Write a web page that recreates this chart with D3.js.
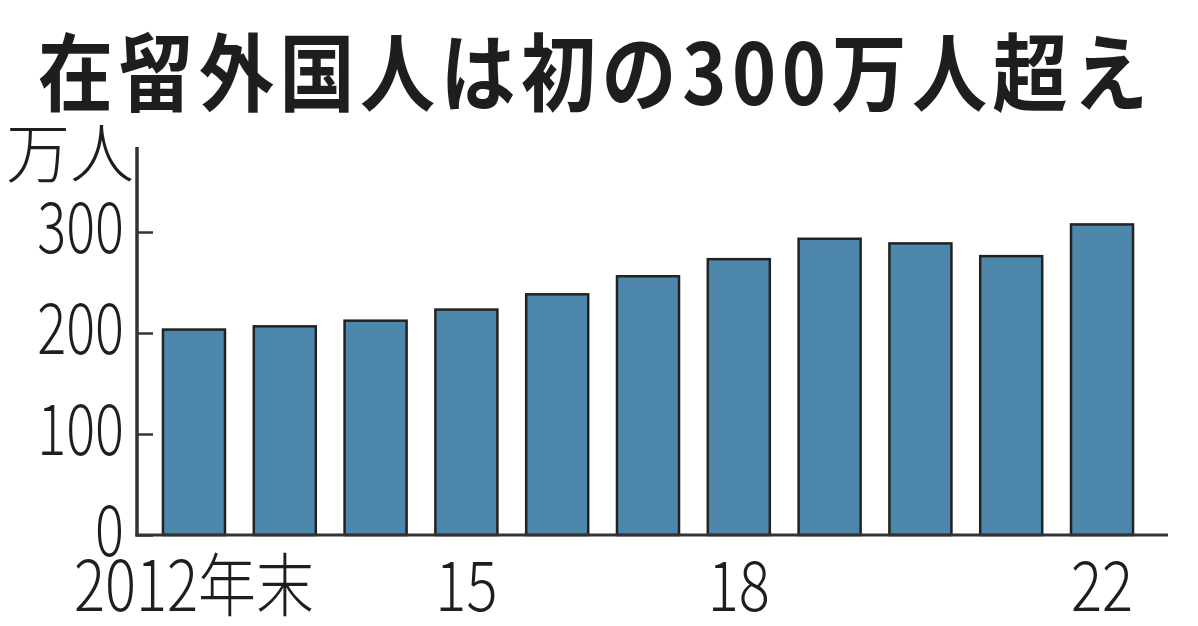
<!DOCTYPE html>
<html>
<head>
<meta charset="utf-8">
<script src="https://cdn.jsdelivr.net/npm/d3@7"></script>
<style>
  html, body { margin: 0; padding: 0; background: #fff; }
  svg { display: block; }
  text { font-family: "Noto Sans CJK JP", "Noto Sans", sans-serif; fill: #1e1e1e; }
</style>
</head>
<body>
<svg id="chart" width="1198" height="626"></svg>
<script>
const title = "在留外国人は初の300万人超え";
const unitLabel = "万人";
const years = ["2012","2013","2014","2015","2016","2017","2018","2019","2020","2021","2022"];
const values = [203.4, 206.6, 212.2, 223.2, 238.3, 256.2, 273.1, 293.3, 288.7, 276.1, 307.5];
const yTicks = [0, 100, 200, 300];
const xTickLabels = {"2012": "2012年末", "2015": "15", "2018": "18", "2022": "22"};

const svg = d3.select("#chart");

const x = d3.scaleBand().domain(years).range([137, 1159]).paddingInner(0.317).paddingOuter(0.286);
const y = d3.scaleLinear().domain([0, 300]).range([535, 232]);

// Title
svg.append("g").attr("transform", "translate(38,105) scale(1,1.13)")
  .append("text")
  .attr("x", 0).attr("y", 0)
  .attr("font-size", 75).attr("font-weight", "bold")
  .attr("textLength", 1110).attr("lengthAdjust", "spacing")
  .text(title);

// Unit label
svg.append("g").attr("transform", "translate(6,177) scale(1,1.02)")
  .append("text").attr("font-size", 64).attr("font-weight", 300).text(unitLabel);

// Bars
svg.append("g").selectAll("rect").data(years).join("rect")
  .attr("x", d => x(d))
  .attr("y", (d, i) => y(values[i]))
  .attr("width", x.bandwidth())
  .attr("height", (d, i) => y(0) - y(values[i]))
  .attr("fill", "#4d87ab")
  .attr("stroke", "#222")
  .attr("stroke-width", 2.5);

// Y axis
const yAxis = d3.axisRight(y).tickValues(yTicks).tickSize(16).tickFormat("");
const gy = svg.append("g").attr("transform", "translate(137,0)").call(yAxis);
gy.select(".domain").remove();
gy.selectAll(".tick line").attr("stroke", "#333").attr("stroke-width", 2.5);
svg.append("line").attr("x1", 137).attr("x2", 137).attr("y1", 147).attr("y2", 536.5)
  .attr("stroke", "#333").attr("stroke-width", 3.5);

// Y tick labels
svg.append("g").selectAll("g").data(yTicks).join("g")
  .attr("transform", d => `translate(124,${y(d) + 21}) scale(1,1.3)`)
  .append("text").attr("text-anchor", "end").attr("font-size", 54).attr("font-weight", 300).text(d => d);

// X axis line
svg.append("line").attr("x1", 135.5).attr("x2", 1168).attr("y1", y(0)).attr("y2", y(0))
  .attr("stroke", "#333").attr("stroke-width", 3);

// X tick labels
svg.append("g").selectAll("g").data(years.filter(d => xTickLabels[d])).join("g")
  .attr("transform", d => `translate(${x(d) + x.bandwidth() / 2},611) scale(1,1.2)`)
  .append("text").attr("text-anchor", "middle").attr("font-size", 58).attr("font-weight", 300).text(d => xTickLabels[d]);
</script>
</body>
</html>
